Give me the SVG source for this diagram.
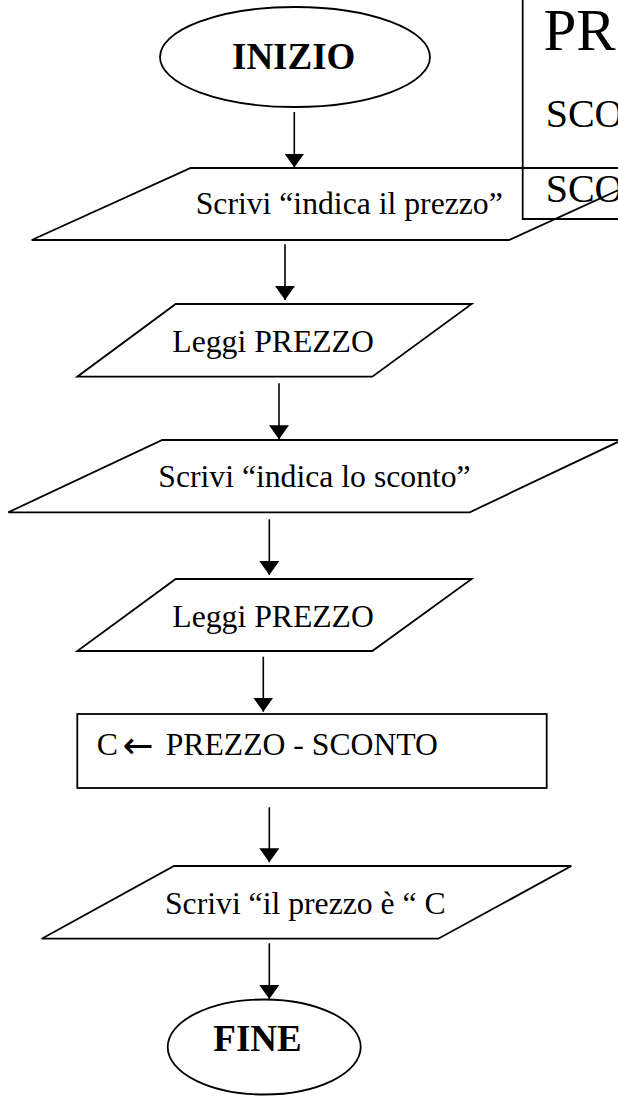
<svg xmlns="http://www.w3.org/2000/svg" width="618" height="1096" viewBox="0 0 618 1096">
<style>
.s{fill:none;stroke:#000;stroke-width:1.8;stroke-linejoin:miter}
.t{font-family:"Liberation Serif","Times New Roman",serif;font-size:31.7px;fill:#000}
.b{font-family:"Liberation Serif","Times New Roman",serif;font-size:37px;font-weight:bold;fill:#000}
.n{font-family:"Liberation Serif","Times New Roman",serif;fill:#000}
.c{stroke:#000;stroke-width:1.6;fill:none}
</style>
<defs>
<marker id="ah" viewBox="0 0 14 20" markerWidth="14" markerHeight="20" refX="14" refY="10" orient="auto" markerUnits="userSpaceOnUse">
<path d="M0,0 L14,10 L0,20 z" fill="#000"/>
</marker>
</defs>
<rect width="618" height="1096" fill="#fff"/>
<g id="note">
<path class="s" d="M522.7,0 V219 H618"/>
<text class="n" x="543.5" y="50" font-size="59">PR</text>
<text class="n" x="545.7" y="126.7" font-size="40">SCO</text>
<text class="n" x="545.7" y="202.3" font-size="40">SCO</text>
</g>
<g id="inizio">
<ellipse class="s" cx="295" cy="57" rx="135" ry="50"/>
<text class="b" x="232" y="69.3">INIZIO</text>
</g>
<g id="scrivi1">
<path class="s" d="M618,190.3 L509,240 L31.7,240 L190.7,168 L618,168"/>
<text class="t" x="195.7" y="214.3">Scrivi “indica il prezzo”</text>
</g>
<g id="leggi1">
<polygon class="s" points="175.7,304 471.7,304 372.3,376.7 77.3,376.7"/>
<text class="t" x="172.3" y="351.7">Leggi PREZZO</text>
</g>
<g id="scrivi2">
<path class="s" d="M618,441.9 L469.7,512.3 L8.3,512.3 L162.3,440 L618,440"/>
<text class="t" x="158.3" y="487.3">Scrivi “indica lo sconto”</text>
</g>
<g id="leggi2">
<polygon class="s" points="175.7,579 471.7,579 372.3,651 77.3,651"/>
<text class="t" x="172.3" y="626.7">Leggi PREZZO</text>
</g>
<g id="calcolo">
<rect class="s" x="77.3" y="714" width="469.4" height="74"/>
<text class="t" x="96.7" y="755">C<tspan x="122.5" y="758" style="font-family:'DejaVu Sans',sans-serif;font-size:37px">←</tspan><tspan x="165.7" y="755">PREZZO - SCONTO</tspan></text>
</g>
<g id="scrivi3">
<polygon class="s" points="174,866 571.3,866 438.3,938.7 41.7,938.7"/>
<text class="t" x="165" y="914">Scrivi “il prezzo è “ C</text>
</g>
<g id="fine">
<ellipse class="s" cx="264.2" cy="1047" rx="96.5" ry="47.5"/>
<text class="b" x="213.3" y="1050.7">FINE</text>
</g>
<g id="connectors">
<line class="c" x1="294.3" y1="112" x2="294.3" y2="167.5" marker-end="url(#ah)"/>
<line class="c" x1="285" y1="244.3" x2="285" y2="300" marker-end="url(#ah)"/>
<line class="c" x1="279" y1="383.3" x2="279" y2="439.3" marker-end="url(#ah)"/>
<line class="c" x1="269.3" y1="519.3" x2="269.3" y2="575" marker-end="url(#ah)"/>
<line class="c" x1="263.3" y1="656.7" x2="263.3" y2="711.7" marker-end="url(#ah)"/>
<line class="c" x1="269.3" y1="807.3" x2="269.3" y2="862.3" marker-end="url(#ah)"/>
<line class="c" x1="269.3" y1="943.3" x2="269.3" y2="999" marker-end="url(#ah)"/>
</g>
</svg>
